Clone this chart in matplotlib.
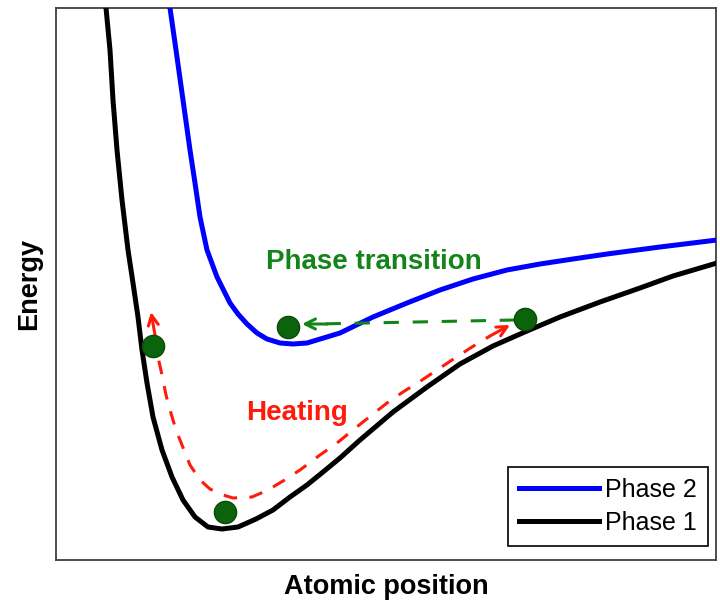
import matplotlib
matplotlib.use("Agg")
import matplotlib.pyplot as plt

plt.rcParams["font.family"] = ["Liberation Sans", "DejaVu Sans"]

# curves (x = atomic position, y = energy, arbitrary units)
phase1_x = [50, 54, 57, 61, 66, 72, 77, 82, 86, 91, 97, 106, 116, 127, 139, 152, 166, 182,
            200, 217, 234, 251, 267, 284, 304, 337, 371, 404, 437, 471, 504, 544, 584, 617, 661]
phase1_e = [552, 510, 460, 410, 360, 310, 277, 243, 210, 177, 143, 110, 83, 60, 43, 33, 31, 33,
            41, 50, 63, 75, 88, 102, 120, 148, 173, 196, 214, 229, 243, 258, 272, 284, 297]

phase2_x = [114, 120, 127, 134, 139, 144, 151, 161, 174, 182, 191, 201, 211, 224, 237, 251,
            284, 317, 351, 384, 417, 451, 484, 517, 551, 604, 661]
phase2_e = [552, 510, 460, 410, 377, 343, 310, 283, 257, 246, 236, 227, 221, 217, 216, 217,
            227, 243, 257, 270, 281, 290, 296, 301, 306, 313, 320]

# atom positions
atom_x = [97, 232, 469, 169]
atom_e = [214, 233, 241, 48]

# heating path (left tip -> bottom -> right tip)
heat_x = [95, 99, 102, 106, 110, 114, 120, 126, 134, 144, 154, 164, 177, 196, 212, 227, 244,
          264, 281, 297, 312, 331, 347, 366, 381, 399, 416, 434, 454]
heat_e = [248, 225, 203, 185, 165, 150, 130, 115, 95, 80, 71, 66, 62, 63, 70, 79, 90,
          105, 117, 130, 142, 157, 168, 180, 190, 202, 213, 224, 235]

# phase transition jump
jump_x = [469, 246]
jump_e = [240, 236]

GREEN = "#13841a"
RED = "#ff1a0a"

fig = plt.figure(figsize=(7.2, 6), dpi=100)
ax = fig.add_axes([56 / 720, 40 / 600, 660 / 720, 552 / 600])

ax.plot(phase1_x, phase1_e, color="black", lw=3.6, solid_joinstyle="round", zorder=3,
        label="Phase 1")
ax.plot(phase2_x, phase2_e, color="#0000ff", lw=3.6, solid_joinstyle="round", zorder=3,
        label="Phase 2")

ax.plot(heat_x[1:-1], heat_e[1:-1], color=RED, lw=2.2, dashes=(4.5, 4), zorder=4)
ax.annotate("", xy=(heat_x[0], heat_e[0]), xytext=(heat_x[1], heat_e[1]),
            arrowprops=dict(arrowstyle="->", color=RED, lw=2.2, mutation_scale=18,
                            shrinkA=0, shrinkB=0), zorder=4)
ax.annotate("", xy=(heat_x[-1], heat_e[-1]), xytext=(heat_x[-2], heat_e[-2]),
            arrowprops=dict(arrowstyle="->", color=RED, lw=2.2, mutation_scale=18,
                            shrinkA=0, shrinkB=0), zorder=4)

ax.plot([jump_x[0] - 10, jump_x[1] + 15], [jump_e[0], jump_e[1]], color=GREEN, lw=2.2,
        dashes=(5, 4.5), zorder=4)
ax.annotate("", xy=(jump_x[1], jump_e[1]), xytext=(jump_x[1] + 25, jump_e[1]),
            arrowprops=dict(arrowstyle="->", color=GREEN, lw=2.2, mutation_scale=18,
                            shrinkA=0, shrinkB=0), zorder=4)

ax.plot(atom_x, atom_e, "o", ms=16, color="#0b640b", mec="#0a4a0a", mew=1, zorder=5)

ax.text(318, 298, "Phase transition", color=GREEN, fontsize=20, fontweight="bold",
        ha="center", va="center")
ax.text(241, 147, "Heating", color=RED, fontsize=20, fontweight="bold",
        ha="center", va="center")

handles, labels = ax.get_legend_handles_labels()
leg = ax.legend(handles[::-1], labels[::-1], loc="lower right", fontsize=18,
                handlelength=3.2, handletextpad=0.25, borderpad=0.45, labelspacing=0.35,
                borderaxespad=0, fancybox=False, edgecolor="black", framealpha=1,
                bbox_to_anchor=(652 / 660, 14 / 552))
leg.get_frame().set_linewidth(1.2)

ax.set_xlim(0, 660)
ax.set_ylim(0, 552)
ax.set_xticks([])
ax.set_yticks([])
for s in ax.spines.values():
    s.set_color("#404040")
    s.set_linewidth(1.3)

ax.set_xlabel("Atomic position", fontsize=19.5, fontweight="bold", labelpad=10)
ax.set_ylabel("Energy", fontsize=19.5, fontweight="bold", labelpad=10)

fig.savefig("out.png", dpi=100)
